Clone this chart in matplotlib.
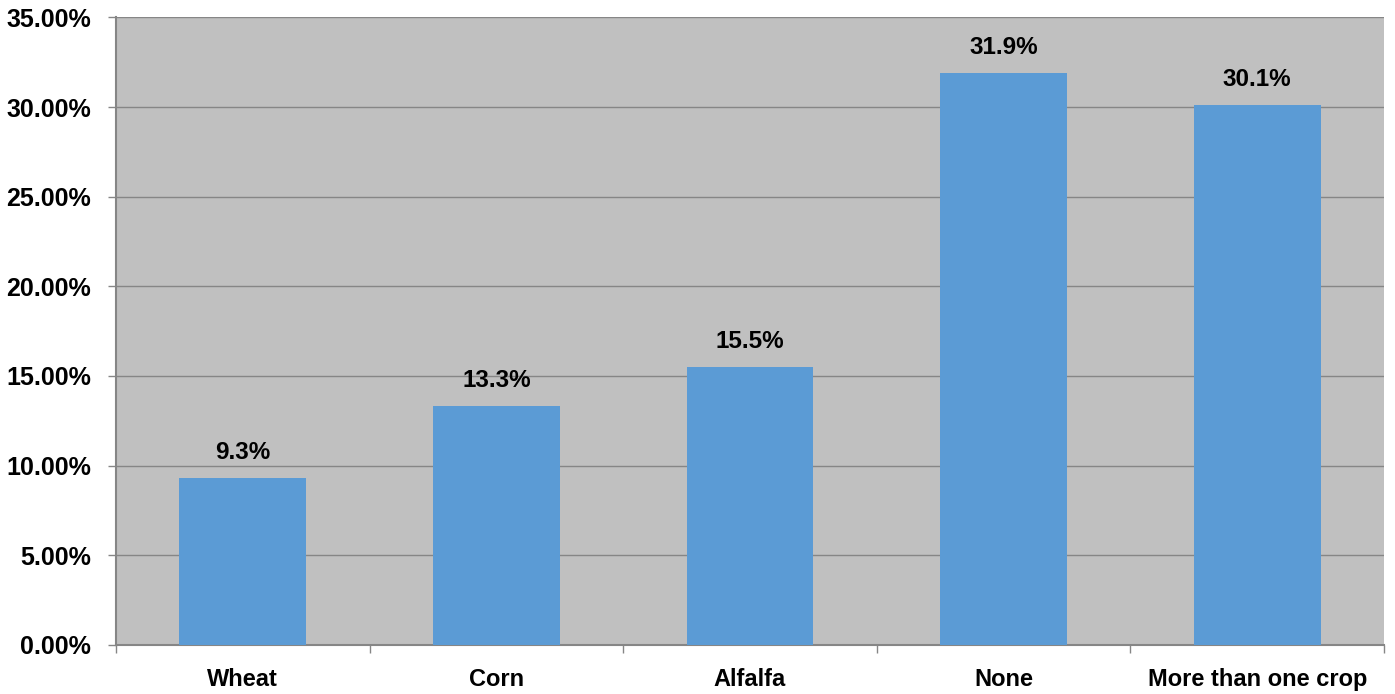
import matplotlib.pyplot as plt
from matplotlib.ticker import FuncFormatter, FixedLocator

# crop type shares (percent)
crops = ['Wheat', 'Corn', 'Alfalfa', 'None', 'More than one crop']
shares = [9.3, 13.3, 15.5, 31.9, 30.1]
labels = ['9.3%', '13.3%', '15.5%', '31.9%', '30.1%']

plt.rcParams['font.family'] = ['Liberation Sans', 'DejaVu Sans']
plt.rcParams['font.weight'] = 'bold'

fig = plt.figure(figsize=(13.95, 6.94), dpi=100)
ax = fig.add_axes([0.0832, 0.0710, 0.9089, 0.9038])
ax.set_facecolor('#C0C0C0')

x = range(len(crops))
ax.bar(x, shares, width=0.5, color='#5B9BD5', zorder=3)

for xi, v, lab in zip(x, shares, labels):
    ax.annotate(lab, (xi, v), xytext=(0, 14), textcoords='offset points',
                ha='center', va='baseline', fontsize=17.5, fontweight='bold')

ax.set_xlim(-0.5, len(crops) - 0.5)
ax.set_ylim(0, 35)
ax.set_yticks([0, 5, 10, 15, 20, 25, 30, 35])
ax.yaxis.set_major_formatter(FuncFormatter(lambda v, p: '%.2f%%' % v))
ax.yaxis.grid(True, color='#868686', linewidth=1, zorder=0)
ax.set_axisbelow(True)

ax.set_xticks(list(x))
ax.set_xticklabels(crops)
ax.xaxis.set_minor_locator(FixedLocator([i - 0.5 for i in range(len(crops) + 1)]))
ax.tick_params(axis='x', which='major', length=0, pad=17, labelsize=17)
ax.tick_params(axis='x', which='minor', length=6, width=1, color='#868686')
ax.tick_params(axis='y', length=6, width=1, color='#868686', pad=12, labelsize=18)

for s in ['top', 'right']:
    ax.spines[s].set_visible(False)
for s in ['left', 'bottom']:
    ax.spines[s].set_color('#868686')
    ax.spines[s].set_linewidth(1.5)

fig.savefig('out.png', dpi=100)
